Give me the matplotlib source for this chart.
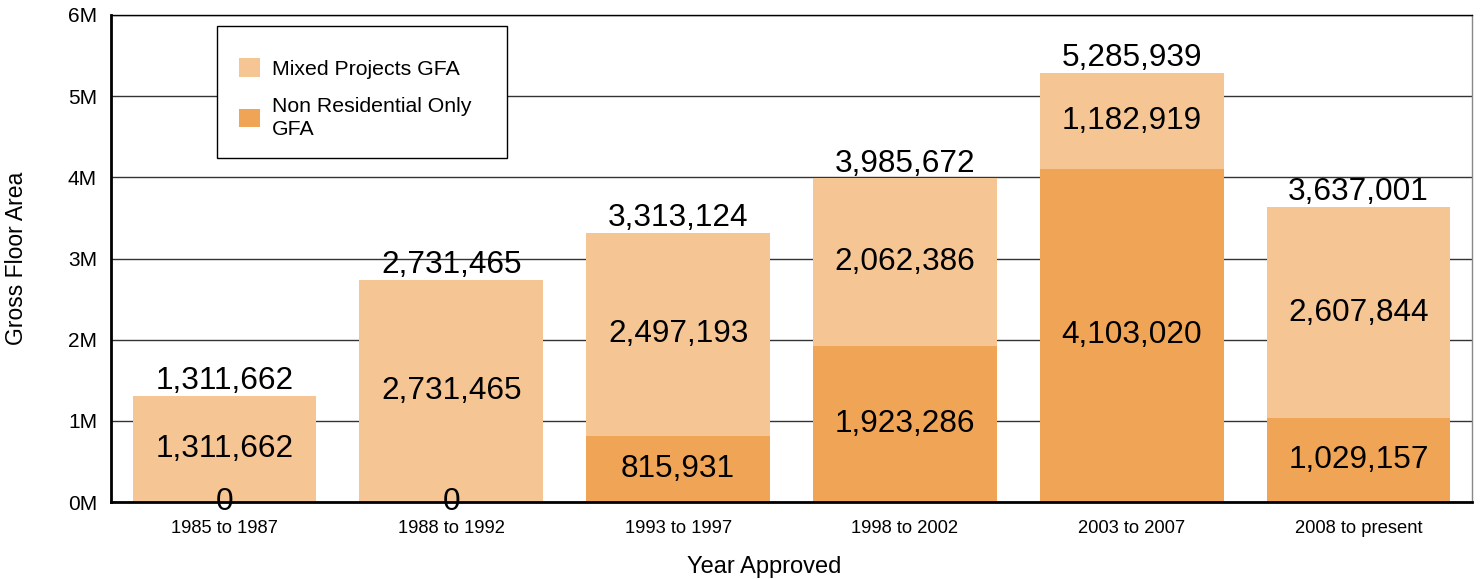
import matplotlib
matplotlib.use("Agg")
import matplotlib.pyplot as plt
from matplotlib.patches import Rectangle
from matplotlib.ticker import FuncFormatter, MultipleLocator

categories = ["1985 to 1987", "1988 to 1992", "1993 to 1997", "1998 to 2002", "2003 to 2007", "2008 to present"]
non_residential = [0, 0, 815931, 1923286, 4103020, 1029157]
mixed = [1311662, 2731465, 2497193, 2062386, 1182919, 2607844]
totals = [n + m for n, m in zip(non_residential, mixed)]

plt.rcParams['font.family'] = ['Liberation Sans', 'DejaVu Sans']

fig = plt.figure(figsize=(14.8, 5.79), dpi=100)
AX_L, AX_B, AX_W, AX_H = 111, 502, 1361, 487
ax = fig.add_axes([AX_L/1480, 1 - AX_B/579, AX_W/1480, AX_H/579])

c_mixed = '#F5C594'
c_non = '#F0A455'
x = list(range(len(categories)))
w = 0.81
big = 22.7

b1 = ax.bar(x, non_residential, width=w, color=c_non, zorder=2)
b2 = ax.bar(x, mixed, width=w, bottom=non_residential, color=c_mixed, zorder=2)

for i in x:
    ax.text(i, non_residential[i] / 2, f"{non_residential[i]:,}", ha='center', va='center', fontsize=big, zorder=3)
    ax.text(i, non_residential[i] + mixed[i] / 2, f"{mixed[i]:,}", ha='center', va='center', fontsize=big, zorder=3)
    ax.annotate(f"{totals[i]:,}", (i, totals[i]), xytext=(0, 5), textcoords='offset points',
                ha='center', va='baseline', fontsize=big, zorder=3)

ax.set_xlim(-0.5, len(categories) - 0.5)
ax.set_ylim(0, 6000000)
ax.yaxis.set_major_locator(MultipleLocator(1000000))
ax.yaxis.set_major_formatter(FuncFormatter(lambda v, p: f"{int(round(v / 1e6))}M"))
ax.set_xticks(x)
ax.set_xticklabels(categories, fontsize=13.2)
ax.tick_params(axis='y', labelsize=15, length=0, pad=10)
ax.tick_params(axis='x', length=0, pad=13)

ax.grid(axis='y', color='#333333', linewidth=1, zorder=1)
ax.set_axisbelow(True)

for s in ['left', 'bottom']:
    ax.spines[s].set_color('black')
    ax.spines[s].set_linewidth(2)
ax.spines['top'].set_color('black')
ax.spines['top'].set_linewidth(1)
ax.spines['right'].set_color('#888888')
ax.spines['right'].set_linewidth(1)

ax.set_xlabel('Year Approved', fontsize=17)
ax.xaxis.set_label_coords((764 - AX_L) / AX_W, (AX_B - 556) / AX_H)
ax.set_ylabel('Gross Floor Area', fontsize=16.5)
ax.yaxis.set_label_coords((28 - AX_L) / AX_W, 0.5)

# legend frame (pixel box 217..507 x 26..158)
frame = Rectangle(((217 - AX_L) / AX_W, (AX_B - 158) / AX_H), 290 / AX_W, 132 / AX_H,
                  transform=ax.transAxes, facecolor='white', edgecolor='black',
                  linewidth=1, zorder=4, clip_on=False)
ax.add_patch(frame)

handles = [b2, b1]
labels = ['Mixed Projects GFA', 'Non Residential Only\nGFA']
leg = ax.legend(handles, labels, loc='upper left',
                bbox_to_anchor=((217 - AX_L) / AX_W, (AX_B - 36) / AX_H),
                fontsize=15.3, frameon=False,
                borderpad=1.05, labelspacing=0.85, handlelength=0.95, handleheight=0.95,
                handletextpad=0.6, borderaxespad=0)
for t in leg.get_texts():
    t.set_linespacing(1.3)
leg.set_zorder(5)

fig.savefig('out.png', dpi=100)
